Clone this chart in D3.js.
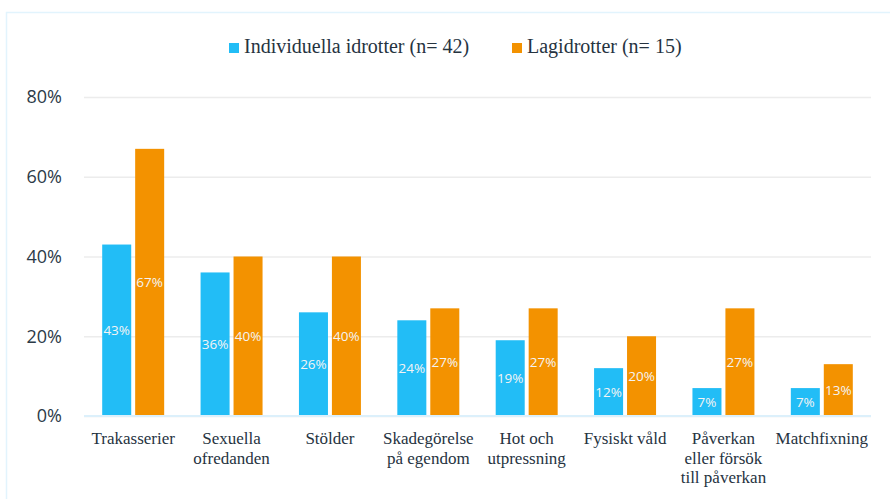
<!DOCTYPE html>
<html lang="sv">
<head>
  <meta charset="UTF-8">
  <title>Brott inom idrott</title>
  <style>
    body { margin: 0; background: #fff; }
  </style>
</head>
<body>
  <script src="https://d3js.org/d3.v7.min.js"></script>
  <script>
    const categories = [
      ['Trakasserier'],
      ['Sexuella', 'ofredanden'],
      ['Stölder'],
      ['Skadegörelse', 'på egendom'],
      ['Hot och', 'utpressning'],
      ['Fysiskt våld'],
      ['Påverkan', 'eller försök', 'till påverkan'],
      ['Matchfixning']
    ];
    const seriesNames = ['Individuella idrotter (n= 42)', 'Lagidrotter (n= 15)'];
    const individuella = [0.43, 0.36, 0.26, 0.24, 0.19, 0.12, 0.07, 0.07];
    const lagidrotter = [0.67, 0.40, 0.40, 0.27, 0.27, 0.20, 0.27, 0.13];
    const yTicks = [0, 0.2, 0.4, 0.6, 0.8];
    const colors = ['#22bdf6', '#f39200'];

    const width = 890;
    const height = 499;
    const plotLeft = 84, plotRight = 871, plotTop = 97, plotBottom = 416;

    const svg = d3.select('body')
                  .append('svg')
                  .attr('width', width)
                  .attr('height', height);

    // faint frame
    svg.append('path')
        .attr('d', 'M6.5,' + height + 'V12.5H' + width)
        .attr('fill', 'none')
        .attr('stroke', '#e2f4fd')
        .attr('stroke-width', 1.5);

    const keys = categories.map((c, i) => i);
    const x0 = d3.scaleBand().domain(keys).range([plotLeft, plotRight]).paddingInner(0.37).paddingOuter(0.185);
    const x1 = d3.scaleBand().domain([0, 1]).range([0, x0.bandwidth()]).paddingInner(0.12);
    const y = d3.scaleLinear().domain([0, 0.8]).range([plotBottom, plotTop]);

    // grid
    const yAxis = d3.axisLeft(y).tickValues(yTicks).tickFormat(d3.format('.0%')).tickSize(-(plotRight - plotLeft)).tickPadding(22);
    const gy = svg.append('g')
        .attr('transform', 'translate(' + plotLeft + ',0)')
        .call(yAxis);
    gy.select('.domain').remove();
    gy.selectAll('.tick line').attr('stroke', '#ececec').attr('stroke-width', 1.5);
    gy.selectAll('.tick text')
        .attr('fill', '#2c3a47')
        .attr('font-family', 'Open Sans, sans-serif')
        .attr('font-size', 18);

    const data = [individuella, lagidrotter];
    const bars = svg.append('g');
    keys.forEach(i => {
      data.forEach((series, s) => {
        const bx = x0(i) + x1(s);
        bars.append('rect')
            .attr('x', bx)
            .attr('y', y(series[i]))
            .attr('width', x1.bandwidth())
            .attr('height', y(0) - y(series[i]))
            .attr('fill', colors[s]);
        bars.append('text')
            .attr('x', bx + x1.bandwidth() / 2)
            .attr('y', (y(series[i]) + y(0)) / 2)
            .attr('dy', '0.35em')
            .attr('text-anchor', 'middle')
            .attr('fill', '#f4f4f4')
            .attr('font-family', 'Open Sans, sans-serif')
            .attr('font-size', 13.5)
            .text(d3.format('.0%')(series[i]));
      });
    });

    // baseline
    svg.append('line')
        .attr('x1', plotLeft).attr('x2', plotRight)
        .attr('y1', y(0)).attr('y2', y(0))
        .attr('stroke', '#dcf0fb')
        .attr('stroke-width', 2);

    // category labels
    const xl = svg.append('g');
    categories.forEach((lines, i) => {
      const t = xl.append('text')
          .attr('x', x0(i) + x0.bandwidth() / 2)
          .attr('y', 444)
          .attr('text-anchor', 'middle')
          .attr('fill', '#26333f')
          .attr('font-family', 'Liberation Serif, serif')
          .attr('font-size', 17);
      lines.forEach((ln, j) => {
        t.append('tspan')
            .attr('x', x0(i) + x0.bandwidth() / 2)
            .attr('dy', j === 0 ? 0 : 19.5)
            .text(ln);
      });
    });

    // legend
    const legendX = [229, 512];
    seriesNames.forEach((name, s) => {
      const g = svg.append('g').attr('transform', 'translate(' + legendX[s] + ',43)');
      g.append('rect').attr('width', 10).attr('height', 10).attr('fill', colors[s]);
      g.append('text')
          .attr('x', 15)
          .attr('y', 10)
          .attr('fill', '#26333f')
          .attr('font-family', 'Liberation Serif, serif')
          .attr('font-size', 20)
          .text(name);
    });
  </script>
</body>
</html>
